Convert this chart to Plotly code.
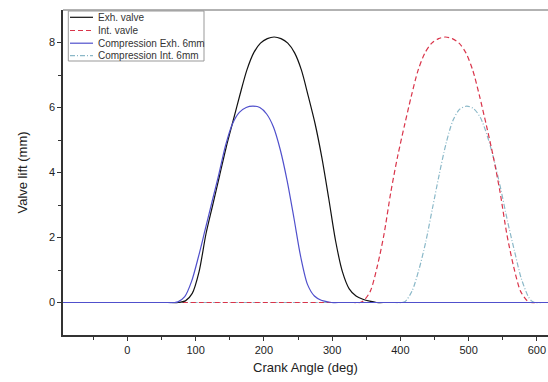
import plotly.graph_objects as go

# Exh. valve (black solid)
exh_x = [-95, 65, 75, 85, 95, 105, 115, 125, 135, 145, 155, 165, 175, 185, 195, 205, 215,
         225, 235, 245, 255, 265, 275, 285, 295, 305, 315, 325, 335, 345, 355, 365, 375, 620]
exh_y = [0, 0, 0, 0.05, 0.28, 0.95, 2.1, 3.0, 3.9, 4.8, 5.6, 6.4, 7.15, 7.68, 7.98, 8.12, 8.17,
         8.12, 7.98, 7.68, 7.15, 6.35, 5.5, 4.45, 3.2, 1.9, 0.95, 0.42, 0.2, 0.1, 0.04, 0, 0, 0]

# Int. vavle (red dashed)
int_x = [-95, 331, 341, 346, 356, 366, 376, 386, 396, 406, 416, 426, 436, 446, 456, 466,
         476, 486, 496, 506, 516, 526, 536, 546, 556, 566, 576, 586, 591, 601, 620]
int_y = [0, 0, 0, 0.05, 0.35, 1.1, 2.1, 3.4, 4.5, 5.45, 6.35, 7.15, 7.68, 7.98, 8.12, 8.17,
         8.12, 7.98, 7.68, 7.15, 6.35, 5.45, 4.5, 3.4, 2.1, 1.1, 0.35, 0.05, 0, 0, 0]

# Compression Exh. 6mm (blue solid)
cexh_x = [-95, 59, 69, 74, 84, 94, 104, 114, 124, 134, 144, 154, 164, 174, 184,
          194, 204, 214, 224, 234, 244, 254, 264, 274, 284, 294, 299, 309, 620]
cexh_y = [0, 0, 0, 0.02, 0.18, 0.65, 1.4, 2.25, 3.1, 3.95, 4.85, 5.5, 5.85, 6.0, 6.04,
          6.0, 5.8, 5.4, 4.7, 3.75, 2.6, 1.4, 0.55, 0.2, 0.07, 0.02, 0, 0, 0]

# Compression Int. 6mm (cyan dash-dot)
cint_x = [-95, 392, 402, 407, 417, 427, 437, 447, 457, 467, 477, 487, 497,
          507, 517, 527, 537, 547, 557, 567, 577, 587, 592, 597, 607, 620]
cint_y = [0, 0, 0, 0.03, 0.35, 1.0, 1.85, 2.9, 3.95, 4.9, 5.6, 5.95, 6.04,
          5.97, 5.7, 5.15, 4.4, 3.5, 2.5, 1.6, 0.75, 0.2, 0.05, 0, 0, 0]

series_names = ["Exh. valve", "Int. vavle", "Compression Exh. 6mm", "Compression Int. 6mm"]
series_colors = ["#111111", "#d9344a", "#5050cc", "#8ab8c8"]
series_dash = ["solid", "5px,3px", "solid", "5px,2px,1px,2px"]
series_x = [exh_x, int_x, cexh_x, cint_x]
series_y = [exh_y, int_y, cexh_y, cint_y]
draw_order = [3, 1, 0, 2]  # blue baseline ends on top, as in the reference

x_ticks = [0, 100, 200, 300, 400, 500, 600]
y_ticks = [0, 2, 4, 6, 8]

fig = go.Figure()
for i in draw_order:
    fig.add_trace(go.Scatter(x=series_x[i], y=series_y[i], mode="lines", name=series_names[i],
                             showlegend=False,
                             line=dict(color=series_colors[i], width=1.2, dash=series_dash[i],
                                       shape="spline", smoothing=0.8)))

# compact legend (Origin style), drawn in paper coordinates
PL, PW, PT, PH = 63, 485, 10, 325
def px(v):
    return (v - PL) / PW
def py(v):
    return (PT + PH - v) / PH

shapes = [dict(type="rect", xref="paper", yref="paper", x0=px(68.3), x1=px(204),
               y0=py(61), y1=py(11), line=dict(color="#999999", width=1), fillcolor="white",
               layer="above")]
rows = [17.3, 30.5, 43.2, 55.6]
annotations = []
for r, nm, col, ds in zip(rows, series_names, series_colors, series_dash):
    shapes.append(dict(type="line", xref="paper", yref="paper", x0=px(70), x1=px(93),
                       y0=py(r), y1=py(r), line=dict(color=col, width=1.2, dash=ds),
                       layer="above"))
    annotations.append(dict(xref="paper", yref="paper", x=px(96), y=py(r), text=nm,
                            showarrow=False, xanchor="left", yanchor="middle",
                            font=dict(size=10, color="#333333")))
# top frame line (grey)
shapes.append(dict(type="line", xref="paper", yref="paper", x0=0, x1=1, y0=1, y1=1,
                   line=dict(color="#999999", width=1.5)))

font = "Liberation Sans, Arial, sans-serif"
fig.update_layout(
    width=548, height=382,
    margin=dict(l=63, r=0, t=10, b=47),
    paper_bgcolor="white", plot_bgcolor="white",
    font=dict(family=font, color="#222222"),
    showlegend=False,
    shapes=shapes, annotations=annotations,
)
fig.update_xaxes(range=[-94.4, 616.3], tickvals=x_ticks, ticks="outside", ticklen=4,
                 tickwidth=1, tickcolor="#333333",
                 showline=True, linecolor="#333333", linewidth=1.5,
                 showgrid=False, zeroline=False,
                 tickfont=dict(size=11),
                 minor=dict(tickvals=[-50, 50, 150, 250, 350, 450, 550], ticks="outside",
                            ticklen=3, tickcolor="#333333"),
                 title=dict(text="Crank Angle (deg)", font=dict(size=13), standoff=8))
fig.update_yaxes(range=[-1, 9], tickvals=y_ticks, ticks="outside", ticklen=4,
                 tickwidth=1, tickcolor="#333333",
                 showline=True, linecolor="#333333", linewidth=1.5,
                 showgrid=False, zeroline=False,
                 tickfont=dict(size=11),
                 minor=dict(tickvals=[1, 3, 5, 7], ticks="outside", ticklen=3,
                            tickcolor="#333333"),
                 title=dict(text="Valve lift (mm)", font=dict(size=13), standoff=18))

fig.write_html("out.html")
